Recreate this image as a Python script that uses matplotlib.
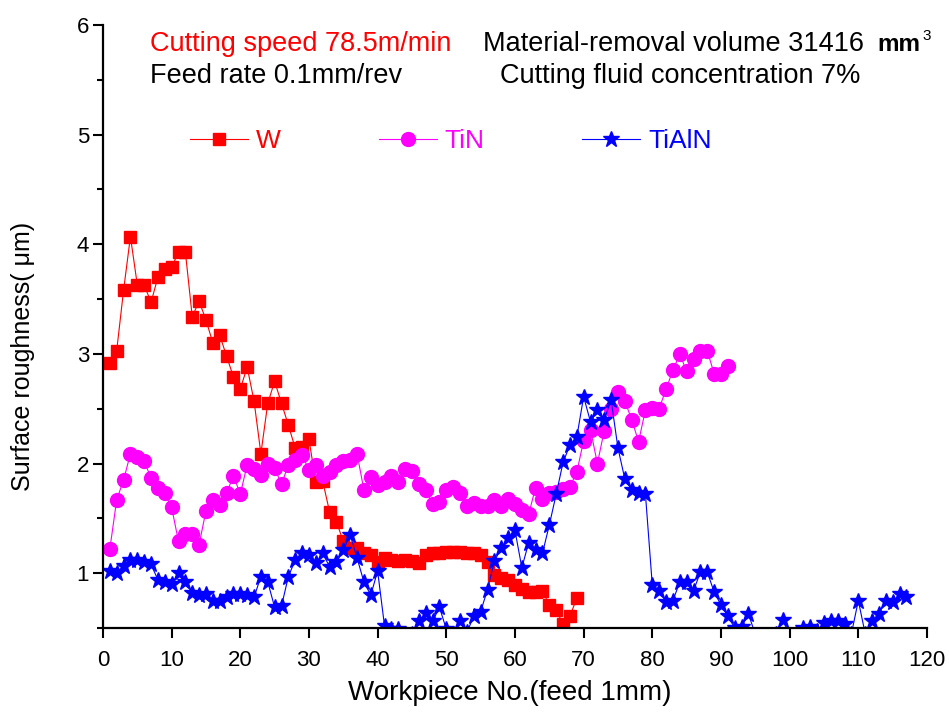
import matplotlib.pyplot as plt
import numpy as np

plt.rcParams['font.family'] = ['Liberation Sans', 'DejaVu Sans']

# surface roughness per workpiece
w_vals = [2.92, 3.03, 3.58, 4.07, 3.63, 3.63, 3.47, 3.70, 3.77, 3.79,
          3.93, 3.93, 3.34, 3.48, 3.31, 3.10, 3.17, 2.98, 2.79, 2.68,
          2.88, 2.57, 2.09, 2.55, 2.75, 2.55, 2.35, 2.14, 2.15, 2.22,
          1.83, 1.84, 1.56, 1.47, 1.29, 1.23, 1.23, 1.18, 1.17, 1.10,
          1.14, 1.12, 1.11, 1.12, 1.11, 1.09, 1.17, 1.18, 1.18, 1.19,
          1.19, 1.19, 1.18, 1.18, 1.17, 1.10, 0.98, 0.96, 0.94, 0.89,
          0.86, 0.83, 0.83, 0.84, 0.71, 0.66, 0.54, 0.61, 0.77]

tin_vals = [1.22, 1.67, 1.85, 2.09, 2.06, 2.02, 1.87, 1.78, 1.73, 1.60,
            1.29, 1.36, 1.36, 1.26, 1.57, 1.67, 1.62, 1.73, 1.89, 1.72,
            1.99, 1.95, 1.90, 2.00, 1.96, 1.81, 1.99, 2.03, 2.08, 1.94,
            1.99, 1.89, 1.92, 1.99, 2.02, 2.03, 2.09, 1.76, 1.88, 1.80,
            1.83, 1.89, 1.83, 1.95, 1.93, 1.81, 1.76, 1.63, 1.65, 1.76,
            1.79, 1.73, 1.61, 1.64, 1.61, 1.61, 1.67, 1.61, 1.68, 1.63,
            1.58, 1.54, 1.78, 1.68, 1.73, 1.74, 1.77, 1.79, 1.92, 2.21,
            2.31, 2.00, 2.30, 2.50, 2.65, 2.57, 2.40, 2.20, 2.49, 2.51,
            2.50, 2.68, 2.85, 3.00, 2.84, 2.95, 3.03, 3.03, 2.82, 2.82,
            2.89]

tialn_vals = [1.02, 1.00, 1.07, 1.12, 1.12, 1.10, 1.08, 0.94, 0.92, 0.90,
              1.00, 0.92, 0.82, 0.80, 0.81, 0.75, 0.75, 0.78, 0.81, 0.81,
              0.80, 0.78, 0.97, 0.92, 0.69, 0.70, 0.97, 1.12, 1.18, 1.17,
              1.09, 1.18, 1.06, 1.10, 1.21, 1.35, 1.14, 0.92, 0.80, 1.02,
              0.52, 0.49, 0.49, 0.44, 0.45, 0.56, 0.64, 0.56, 0.69, 0.49,
              0.44, 0.56, 0.46, 0.61, 0.65, 0.85, 1.11, 1.23, 1.32, 1.39,
              1.05, 1.28, 1.21, 1.18, 1.44, 1.72, 2.01, 2.17, 2.24, 2.61,
              2.38, 2.49, 2.40, 2.58, 2.14, 1.86, 1.76, 1.73, 1.72, 0.89,
              0.84, 0.74, 0.75, 0.92, 0.92, 0.84, 1.01, 1.01, 0.83, 0.71,
              0.61, 0.50, 0.51, 0.63, 0.44, 0.42, 0.43, 0.45, 0.57, 0.44,
              0.45, 0.50, 0.51, 0.47, 0.55, 0.56, 0.56, 0.54, 0.45, 0.75,
              0.45, 0.56, 0.63, 0.75, 0.74, 0.81, 0.78]

series_names = ['W', 'TiN', 'TiAlN']
series_colors = ['#FF0000', '#FF00FF', '#0000FF']

fig = plt.figure(figsize=(9.49, 7.18), dpi=100)
ax = fig.add_axes([0.1085, 0.1253, 0.8683, 0.8399])

x_w = np.arange(1, len(w_vals) + 1)
x_tin = np.arange(1, len(tin_vals) + 1)
x_tialn = np.arange(1, len(tialn_vals) + 1)

ax.plot(x_w, w_vals, '-s', color=series_colors[0], lw=0.8, ms=8,
        mec=series_colors[0], label=series_names[0])
ax.plot(x_tin, tin_vals, '-o', color=series_colors[1], lw=0.8, ms=10,
        mec=series_colors[1], label=series_names[1])
ax.plot(x_tialn, tialn_vals, '-*', color=series_colors[2], lw=0.8, ms=12,
        mec=series_colors[2], label=series_names[2])

ax.set_xlim(0, 120)
ax.set_ylim(0.5, 6)
ax.set_xticks(np.arange(0, 121, 10))
ax.set_yticks([1, 2, 3, 4, 5, 6])
ax.set_yticks(np.arange(0.5, 6.0, 1.0), minor=True)

for side in ['top', 'right']:
    ax.spines[side].set_visible(False)
for side in ['left', 'bottom']:
    ax.spines[side].set_linewidth(1.6)

ax.tick_params(axis='both', which='major', direction='out', length=7,
               width=1.5, labelsize=16)
ax.tick_params(axis='x', which='major', pad=9)
ax.tick_params(axis='y', which='major', pad=3)
ax.tick_params(axis='y', which='minor', direction='out', length=4, width=1.5)

ax.set_xlabel('Workpiece No.(feed 1mm)', fontsize=20)
ax.set_ylabel('Surface roughness( \u03bcm)', fontsize=18)
ax.xaxis.set_label_coords(0.494, -0.087)
ax.yaxis.set_label_coords(-0.083, 0.45)

leg = ax.legend(loc='center left', bbox_to_anchor=(0.077, 0.808), ncol=3,
                frameon=False, fontsize=19, handlelength=2.2,
                handletextpad=0.3, columnspacing=3.7)
for txt, c in zip(leg.get_texts(), series_colors):
    txt.set_color(c)

fig.text(0.158, 0.9387, 'Cutting speed 78.5m/min', color='red',
         fontsize=19.5, va='center')
fig.text(0.509, 0.9387, 'Material-removal volume 31416', fontsize=19.5,
         va='center')
fig.text(0.924, 0.9387, 'mm', fontsize=17.5, fontweight='bold', va='center')
fig.text(0.972, 0.950, '3', fontsize=11, va='center')
fig.text(0.158, 0.894, 'Feed rate 0.1mm/rev', fontsize=19.5, va='center')
fig.text(0.527, 0.894, 'Cutting fluid concentration 7%', fontsize=19.5,
         va='center')

fig.savefig('out.png', dpi=100)
